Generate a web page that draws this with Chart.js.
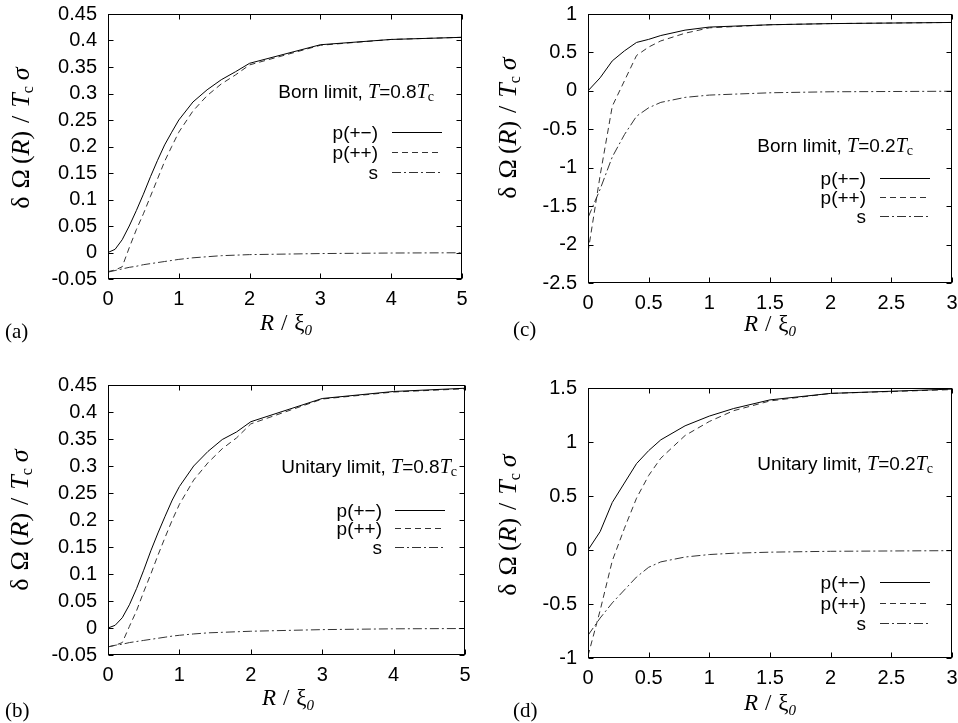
<!DOCTYPE html>
<html><head><meta charset="utf-8">
<script src="https://cdn.jsdelivr.net/npm/chart.js@4.4.1/dist/chart.umd.min.js"></script>
<style>
html,body{margin:0;padding:0;background:#fff;}
#wrap{position:relative;width:958px;height:723px;overflow:hidden;background:#fff;}
canvas{position:absolute;}
</style></head><body>
<div id="wrap">
<canvas id="ca" width="479" height="360" style="left:0;top:0"></canvas>
<canvas id="cc" width="479" height="360" style="left:479px;top:0"></canvas>
<canvas id="cb" width="479" height="363" style="left:0;top:360px"></canvas>
<canvas id="cd" width="479" height="363" style="left:479px;top:360px"></canvas>
</div>
<script>
// ---------- data ----------
const SERIES_LABELS = ['p(+−)', 'p(++)', 's'];

// (a) Born limit, T = 0.8 Tc
const XA   = [0,0.1,0.2,0.3,0.4,0.5,0.6,0.7,0.8,0.9,1.0,1.2,1.4,1.6,1.8,2,3,4,5];
const A_PM = [0,0.006,0.024,0.05,0.079,0.11,0.143,0.174,0.203,0.227,0.25,0.284,0.307,0.326,0.341,0.357,0.392,0.402,0.406];
const A_PP = [-0.036,-0.033,-0.027,0.009,0.043,0.073,0.106,0.139,0.172,0.20,0.227,0.267,0.296,0.318,0.335,0.354,0.391,0.402,0.406];
const A_S  = [-0.037,-0.034,-0.031,-0.028,-0.026,-0.023,-0.021,-0.019,-0.017,-0.015,-0.013,-0.010,-0.008,-0.006,-0.005,-0.004,-0.002,-0.001,-0.0005];

// (b) Unitary limit, T = 0.8 Tc
const XB   = [0,0.1,0.2,0.3,0.4,0.5,0.6,0.7,0.8,0.9,1.0,1.2,1.4,1.6,1.8,2,3,4,5];
const B_PM = [0,0.005,0.019,0.043,0.073,0.107,0.143,0.176,0.207,0.237,0.262,0.30,0.327,0.349,0.363,0.382,0.425,0.438,0.444];
const B_PP = [-0.035,-0.032,-0.027,0.003,0.032,0.067,0.100,0.135,0.168,0.20,0.229,0.274,0.306,0.332,0.352,0.378,0.424,0.437,0.443];
const B_S  = [-0.035,-0.032,-0.030,-0.027,-0.025,-0.023,-0.021,-0.019,-0.017,-0.015,-0.0135,-0.011,-0.009,-0.008,-0.007,-0.006,-0.003,-0.0015,-0.001];

// (c) Born limit, T = 0.2 Tc
const XC   = [0,0.1,0.2,0.3,0.4,0.5,0.6,0.8,1.0,1.5,2,3];
const C_PM = [0,0.17,0.39,0.52,0.63,0.67,0.72,0.79,0.83,0.86,0.875,0.89];
const C_PP = [-2.1,-1.1,-0.2,0.13,0.46,0.57,0.65,0.75,0.82,0.86,0.875,0.89];
const C_S  = [-1.65,-1.28,-0.86,-0.57,-0.33,-0.22,-0.15,-0.085,-0.055,-0.025,-0.012,-0.005];

// (d) Unitary limit, T = 0.2 Tc
const XD   = [0,0.1,0.2,0.3,0.4,0.5,0.6,0.8,1.0,1.2,1.5,2,3];
const D_PM = [0,0.17,0.44,0.62,0.80,0.92,1.02,1.15,1.24,1.31,1.39,1.45,1.49];
const D_PP = [-0.98,-0.56,-0.1,0.2,0.48,0.69,0.85,1.06,1.19,1.29,1.38,1.45,1.485];
const D_S  = [-0.79,-0.63,-0.49,-0.37,-0.25,-0.16,-0.11,-0.065,-0.042,-0.03,-0.02,-0.012,-0.006];

// ---------- styling ----------
const SANS  = '"Liberation Sans", Arial, Helvetica, sans-serif';
const SERIF = '"Liberation Serif", "Times New Roman", Times, serif';
const STYLES = [
  {color:'#000', dash:[]},
  {color:'#333', dash:[6,4]},
  {color:'#333', dash:[9,3,2,3]}
];

const PANELS = [
  {id:'ca', ox:0,   oy:0,   w:479, h:360, L:108, R:462, T:14,  B:279,
   xs:XA, ys:[A_PM,A_PP,A_S], xmax:5, xstep:1, ymin:-0.05, ymax:0.45, ystep:0.05,
   limit:'Born limit, ', temp:'0.8', noteR:434, noteY:91,
   legR:378, legX1:392, legX2:442, legY:[132,152,172],
   tag:'(a)', tagX:5, tagY:331, xtX:286, xtY:323, ytX:20, ytY:138},
  {id:'cc', ox:479, oy:0,   w:479, h:360, L:588, R:952, T:14,  B:283,
   xs:XC, ys:[C_PM,C_PP,C_S], xmax:3, xstep:0.5, ymin:-2.5, ymax:1, ystep:0.5,
   limit:'Born limit, ', temp:'0.2', noteR:913, noteY:145,
   legR:866, legX1:880, legX2:930, legY:[178,197,216],
   tag:'(c)', tagX:513, tagY:329, xtX:770, xtY:324, ytX:507, ytY:128},
  {id:'cb', ox:0,   oy:360, w:479, h:363, L:108, R:465, T:385, B:655,
   xs:XB, ys:[B_PM,B_PP,B_S], xmax:5, xstep:1, ymin:-0.05, ymax:0.45, ystep:0.05,
   limit:'Unitary limit, ', temp:'0.8', noteR:457, noteY:466,
   legR:382, legX1:395, legX2:445, legY:[510,528,547],
   tag:'(b)', tagX:5, tagY:710, xtX:288, xtY:698, ytX:19, ytY:520},
  {id:'cd', ox:479, oy:360, w:479, h:363, L:588, R:952, T:388, B:658,
   xs:XD, ys:[D_PM,D_PP,D_S], xmax:3, xstep:0.5, ymin:-1, ymax:1.5, ystep:0.5,
   limit:'Unitary limit, ', temp:'0.2', noteR:933, noteY:463,
   legR:866, legX1:880, legX2:930, legY:[582,603,623],
   tag:'(d)', tagX:513, tagY:710, xtX:770, xtY:703, ytX:507, ytY:525}
];

function rich(ctx, segs, x, y, align){
  let w = 0;
  segs.forEach(s => { ctx.font = s.f; s.w = ctx.measureText(s.t).width + (s.gap||0); w += s.w; });
  let cx = align === 'right' ? x - w : align === 'center' ? x - w/2 : x;
  segs.forEach(s => { ctx.font = s.f; ctx.fillText(s.t, cx, y + (s.dy||0)); cx += s.w; });
  return w;
}

function fmt(v){ return String(parseFloat(Number(v).toFixed(4))); }

function makeDeco(P){
  return {
    id:'deco_'+P.id,
    afterDraw(chart){
      const ctx = chart.ctx, a = chart.chartArea;
      ctx.save();
      ctx.strokeStyle = '#000'; ctx.lineWidth = 1; ctx.setLineDash([]);
      const l = Math.round(a.left)+0.5, r = Math.round(a.right)-0.5,
            t = Math.round(a.top)+0.5, b = Math.round(a.bottom)-0.5;
      ctx.strokeRect(l, t, r-l, b-t);
      const TL = 5;
      ctx.beginPath();
      chart.scales.x.ticks.forEach(tk => {
        const px = Math.round(chart.scales.x.getPixelForValue(tk.value))+0.5;
        ctx.moveTo(px, b); ctx.lineTo(px, b-TL);
        ctx.moveTo(px, t); ctx.lineTo(px, t+TL);
      });
      chart.scales.y.ticks.forEach(tk => {
        const py = Math.round(chart.scales.y.getPixelForValue(tk.value))+0.5;
        ctx.moveTo(l, py); ctx.lineTo(l+TL, py);
        ctx.moveTo(r, py); ctx.lineTo(r-TL, py);
      });
      ctx.stroke();

      ctx.fillStyle = '#000';
      ctx.textBaseline = 'alphabetic';
      const X = v => v - P.ox, Y = v => v - P.oy;

      // annotation
      rich(ctx, [
        {t:P.limit, f:'19px '+SANS},
        {t:'T', f:'italic 20px '+SERIF},
        {t:'='+P.temp, f:'19px '+SANS},
        {t:'T', f:'italic 20px '+SERIF},
        {t:'c', f:'14px '+SERIF, dy:3}
      ], X(P.noteR), Y(P.noteY)+7, 'right');

      // legend
      chart.data.datasets.forEach((ds, i) => {
        const yy = Y(P.legY[i]);
        ctx.font = '19px '+SANS; ctx.textAlign = 'right';
        ctx.fillText(ds.label, X(P.legR), yy+7);
        ctx.textAlign = 'left';
        ctx.beginPath();
        ctx.strokeStyle = ds.borderColor; ctx.lineWidth = ds.borderWidth;
        ctx.setLineDash(ds.borderDash);
        ctx.moveTo(X(P.legX1), Math.round(yy)+0.5); ctx.lineTo(X(P.legX2), Math.round(yy)+0.5);
        ctx.stroke();
      });
      ctx.setLineDash([]);

      // x title
      rich(ctx, [
        {t:'R', f:'italic 23px '+SERIF, gap:7},
        {t:'/', f:'23px '+SERIF, gap:7},
        {t:'ξ', f:'23px '+SERIF},
        {t:'0', f:'italic 15px '+SERIF, dy:5}
      ], X(P.xtX), Y(P.xtY)+7, 'center');

      // panel tag
      ctx.font = '21px '+SERIF;
      ctx.fillText(P.tag, X(P.tagX), Y(P.tagY)+7);

      // y title (rotated)
      ctx.translate(X(P.ytX), Y(P.ytY));
      ctx.rotate(-Math.PI/2);
      rich(ctx, [
        {t:'δ', f:'26px '+SERIF, gap:8},
        {t:'Ω', f:'26px '+SERIF, gap:5},
        {t:'(', f:'26px '+SERIF},
        {t:'R', f:'italic 26px '+SERIF},
        {t:')', f:'26px '+SERIF, gap:8},
        {t:'/', f:'26px '+SERIF, gap:8},
        {t:'T', f:'italic 26px '+SERIF},
        {t:'c', f:'16px '+SERIF, dy:4, gap:6},
        {t:'σ', f:'italic 26px '+SERIF}
      ], 0, 9, 'center');
      ctx.restore();
    }
  };
}

PANELS.forEach(P => {
  const datasets = P.ys.map((ys, i) => ({
    label: SERIES_LABELS[i],
    data: P.xs.map((x, k) => ({x, y: ys[k]})),
    borderColor: STYLES[i].color,
    borderDash: STYLES[i].dash,
    borderWidth: 1,
    pointRadius: 0,
    fill: false,
    tension: 0
  }));
  const tickFont = {family: SANS, size: 20};
  new Chart(document.getElementById(P.id), {
    type: 'line',
    data: {datasets},
    options: {
      responsive: false,
      animation: false,
      events: [],
      layout: {padding: {top: P.T - P.oy, right: P.ox + P.w - P.R, left: 0, bottom: 0}},
      plugins: {legend: {display: false}, tooltip: {enabled: false}, title: {display: false}},
      scales: {
        x: {
          type: 'linear', min: 0, max: P.xmax,
          ticks: {stepSize: P.xstep, font: tickFont, color: '#000', padding: 8, maxRotation: 0, autoSkip: false, callback: fmt},
          grid: {display: false, drawTicks: false, tickLength: 0}, border: {display: false},
          afterFit(s){ s.height = P.oy + P.h - P.B; s.paddingLeft = 0; s.paddingRight = 0; }
        },
        y: {
          type: 'linear', min: P.ymin, max: P.ymax,
          ticks: {stepSize: P.ystep, font: tickFont, color: '#000', padding: 11, autoSkip: false, callback: fmt},
          grid: {display: false, drawTicks: false, tickLength: 0}, border: {display: false},
          afterFit(s){ s.width = P.L - P.ox; s.paddingTop = 0; s.paddingBottom = 0; }
        }
      }
    },
    plugins: [makeDeco(P)]
  });
});
</script>
</body></html>
